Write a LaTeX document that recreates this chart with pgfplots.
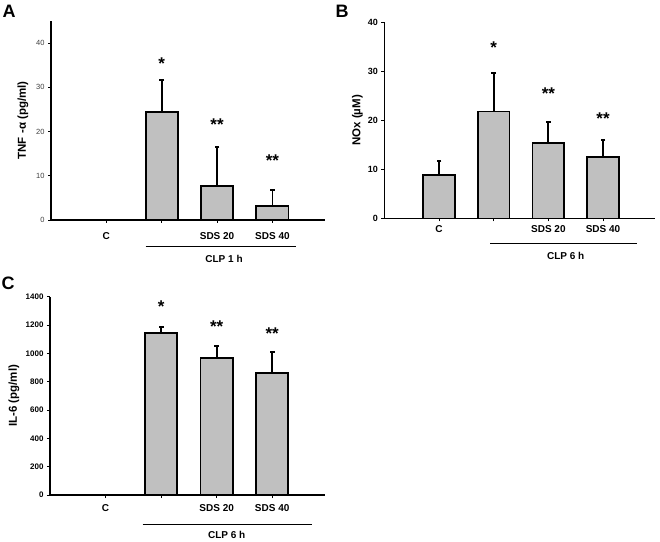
\documentclass[border=0pt]{standalone}
\usepackage{pgfplots}
\pgfplotsset{compat=1.18}
\usepackage{fontspec}
\setmainfont{Liberation Sans}
\definecolor{barfill}{RGB}{192,192,192}
\pgfplotsset{
  panel/.style={
    scale only axis,
    anchor=south west,
    axis x line=bottom, axis y line=left,
    axis line style={-, line width=1.6pt},
    xmin=0, xmax=4.95, ymin=0,
    xtick={1,2,3,4},
    xticklabels={C,,SDS 20,SDS 40},
    xticklabel style={font=\fontsize{10}{10}\selectfont\bfseries},
    tick align=outside,
    major tick length=3pt,
    tick style={black, line width=0.6pt},
    /pgf/number format/assume math mode=true,
    /pgf/number format/1000 sep={},
    ylabel style={font=\fontsize{11.5}{11.5}\selectfont\bfseries, at={(axis description cs:0,0.5)}, anchor=center},
    clip=false,
  },
  bars/.style={
    ybar, bar width=0.58, bar shift=0pt,
    fill=barfill, draw=black, line width=1.8pt,
    error bars/.cd, y dir=plus, y explicit,
    error bar style={line width=1.8pt, black},
    error mark=none,
  },
  caps/.style={
    only marks, mark=-, mark size=2.4pt,
    mark options={line width=1.8pt, black},
  },
  stars/.style={
    draw=none, mark=none, only marks,
    nodes near coords, point meta=explicit symbolic,
    every node near coord/.append style={anchor=center, inner sep=0pt, font=\fontsize{17}{17}\selectfont\bfseries, yshift=-1.4pt},
  },
}
\begin{document}
\begin{tikzpicture}[x=1pt,y=1pt]
% ---------- Panel A ----------
\begin{axis}[panel, at={(51pt,321pt)}, width=274pt, height=199.3pt,
  ymax=45, ytick={0,10,20,30,40},
  xticklabel style={yshift=-5.5pt},
  yticklabel style={font=\fontsize{7.5}{7.5}\selectfont, text=black!75},
  ylabel={TNF -α (pg/ml)}, ylabel style={yshift=28pt}]
\addplot[bars] coordinates {
  (2,24.4) +- (0,7.3)
  (3,7.7) +- (0,8.7)
  (4,3.2) +- (0,3.6)
};
\addplot[caps] coordinates {(2,31.7) (3,16.4) (4,6.8)};
\addplot[stars] coordinates {(2,35.7)[*] (3,21.8)[**] (4,13.7)[**]};
\end{axis}
\draw[line width=1pt] (145.7,294) -- (296,294);
\node[font=\fontsize{10}{10}\selectfont\bfseries] at (224,282) {CLP 1 h};
\node[font=\fontsize{18}{18}\selectfont\bfseries] at (9,529.5) {A};
% ---------- Panel B ----------
\begin{axis}[panel, at={(384.3pt,322.5pt)}, width=270.7pt, height=196.3pt,
  ymax=40, ytick={0,10,20,30,40},
  yticklabel style={font=\fontsize{9}{9}\selectfont\bfseries},
  ylabel={NOx (µM)}, ylabel style={yshift=27pt}]
\addplot[bars] coordinates {
  (1,8.9) +- (0,2.8)
  (2,21.8) +- (0,7.8)
  (3,15.4) +- (0,4.3)
  (4,12.5) +- (0,3.5)
};
\addplot[caps] coordinates {(1,11.7) (2,29.6) (3,19.7) (4,16.0)};
\addplot[stars] coordinates {(2,35.1)[*] (3,25.7)[**] (4,20.6)[**]};
\end{axis}
\draw[line width=1pt] (490,297.3) -- (636.7,297.3);
\node[font=\fontsize{10}{10}\selectfont\bfseries] at (565.7,285) {CLP 6 h};
\node[font=\fontsize{18}{18}\selectfont\bfseries] at (342,529.5) {B};
% ---------- Panel C ----------
\begin{axis}[panel, at={(50pt,46pt)}, width=275pt, height=198.3pt,
  ymax=1400, ytick={0,200,...,1400},
  xticklabel style={yshift=-3pt},
  yticklabel style={font=\fontsize{8}{8}\selectfont\bfseries},
  ylabel={IL-6 (pg/ml)}, ylabel style={yshift=36pt}]
\addplot[bars] coordinates {
  (2,1142) +- (0,42)
  (3,965) +- (0,87)
  (4,859) +- (0,153)
};
\addplot[caps] coordinates {(2,1184) (3,1052) (4,1012)};
\addplot[stars] coordinates {(2,1337)[*] (3,1200)[**] (4,1149)[**]};
\end{axis}
\draw[line width=1pt] (142.7,17) -- (311.7,17);
\node[font=\fontsize{10}{10}\selectfont\bfseries] at (226.7,6) {CLP 6 h};
\node[font=\fontsize{18}{18}\selectfont\bfseries] at (8,258) {C};
\pgfresetboundingbox
\useasboundingbox (0,0) rectangle (660,541);
\end{tikzpicture}
\end{document}
